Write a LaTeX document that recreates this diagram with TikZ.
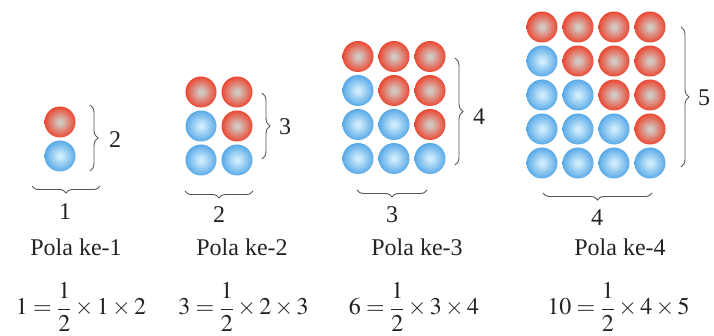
\documentclass[tikz,border=0pt]{standalone}
\usepackage{amsmath}
\usepackage{mathptmx}
\usepackage{fontspec}
\setmainfont{Liberation Serif}
\usetikzlibrary{decorations.pathreplacing}
\definecolor{redI}{RGB}{210,200,195}
\definecolor{redO}{RGB}{236,66,44}
\definecolor{redE}{RGB}{218,50,34}
\definecolor{bluI}{RGB}{205,236,252}
\definecolor{bluO}{RGB}{84,166,230}
\definecolor{bluE}{RGB}{66,146,214}
\definecolor{ink}{RGB}{35,35,35}
\definecolor{brc}{RGB}{85,85,85}
\pgfdeclareradialshading{redball}{\pgfpoint{0bp}{0bp}}{color(0bp)=(redI);color(3bp)=(redI);color(26bp)=(redO);color(43bp)=(redO);color(50bp)=(redE)}
\pgfdeclareradialshading{bluball}{\pgfpoint{0bp}{0bp}}{color(0bp)=(bluI);color(3bp)=(bluI);color(26bp)=(bluO);color(43bp)=(bluO);color(50bp)=(bluE)}
\tikzset{
  ballR/.style={circle,inner sep=0pt,minimum size=31pt,shading=redball},
  ballB/.style={circle,inner sep=0pt,minimum size=31pt,shading=bluball},
  lab/.style={font=\fontsize{24}{28}\selectfont,inner sep=0pt,text=ink},
  bracestyle/.style={draw=brc,line width=0.9pt,decorate,decoration={brace,amplitude=#1}},
}
\begin{document}
\begin{tikzpicture}[x=1pt,y=-1pt]
\useasboundingbox (0,0) rectangle (714,336);
% balls
\foreach \n/\x/\yb in {1/60/156,2/201/160,3/358/158.5,4/542/163}{
  \pgfmathtruncatemacro\m{\n+1}
  \foreach \c in {1,...,\n}{
    \foreach \r in {1,...,\m}{
      \pgfmathsetmacro\px{\x+(\c-1)*36}
      \pgfmathsetmacro\py{\yb-(\m-\r)*34}
      \ifnum\c<\r
        \node[ballB] (p\n-r\r-c\c) at (\px,\py) {};
      \else
        \node[ballR] (p\n-r\r-c\c) at (\px,\py) {};
      \fi
    }
  }
}
% right braces
\coordinate (r1t) at (90,105);  \coordinate (r1b) at (90,171);
\coordinate (r2t) at (262,93);  \coordinate (r2b) at (262,159);
\coordinate (r3t) at (455,58);  \coordinate (r3b) at (455,165);
\coordinate (r4t) at (681,27);  \coordinate (r4b) at (681,167);
\draw[bracestyle=8pt] (r1t) -- (r1b);
\draw[bracestyle=8pt] (r2t) -- (r2b);
\draw[bracestyle=8pt] (r3t) -- (r3b);
\draw[bracestyle=8pt] (r4t) -- (r4b);
\node[lab] (h1) at (115,140) {2};
\node[lab] (h2) at (285,127) {3};
\node[lab] (h3) at (479,117) {4};
\node[lab] (h4) at (704,98) {5};
% bottom braces
\coordinate (d1r) at (100,186); \coordinate (d1l) at (32,186);
\coordinate (d2r) at (253,191); \coordinate (d2l) at (185,191);
\coordinate (d3r) at (427,190); \coordinate (d3l) at (357,190);
\coordinate (d4r) at (652,193); \coordinate (d4l) at (543,193);
\draw[bracestyle=7pt] (d1r) -- (d1l);
\draw[bracestyle=7pt] (d2r) -- (d2l);
\draw[bracestyle=7pt] (d3r) -- (d3l);
\draw[bracestyle=7pt] (d4r) -- (d4l);
\node[lab] (w1) at (65,212) {1};
\node[lab] (w2) at (219,215) {2};
\node[lab] (w3) at (392,215) {3};
\node[lab] (w4) at (597,218) {4};
% titles
\node[lab,anchor=base] (t1) at (76,256) {Pola ke-1};
\node[lab,anchor=base] (t2) at (242,256) {Pola ke-2};
\node[lab,anchor=base] (t3) at (417,256) {Pola ke-3};
\node[lab,anchor=base] (t4) at (620,256) {Pola ke-4};
% formulas
\node[lab,anchor=base] (f1) at (81,315) {$1=\dfrac{1}{2}\times 1\times 2$};
\node[lab,anchor=base] (f2) at (243.5,315) {$3=\dfrac{1}{2}\times 2\times 3$};
\node[lab,anchor=base] (f3) at (414,315) {$6=\dfrac{1}{2}\times 3\times 4$};
\node[lab,anchor=base] (f4) at (618.5,315) {$10=\dfrac{1}{2}\times 4\times 5$};
\end{tikzpicture}
\end{document}
